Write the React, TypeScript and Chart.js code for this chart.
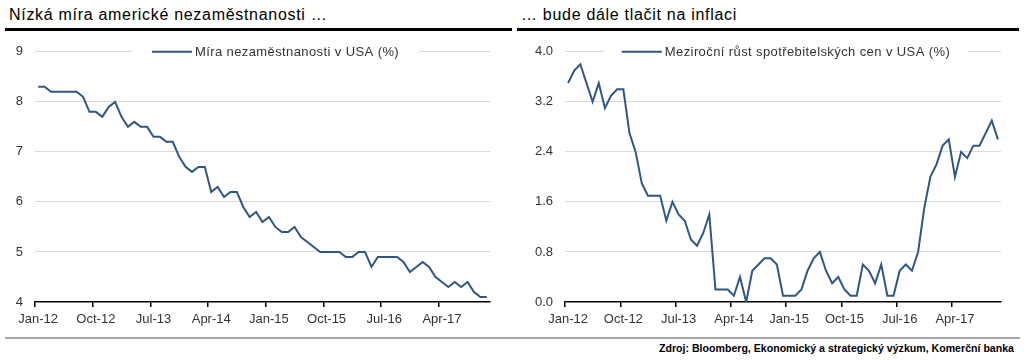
import React, { useEffect, useRef } from 'react';
import { Chart, registerables } from 'chart.js';

Chart.register(...registerables);

const MONTHS = ['Jan', 'Feb', 'Mar', 'Apr', 'May', 'Jun', 'Jul', 'Aug', 'Sep', 'Oct', 'Nov', 'Dec'];
const YEARS = ['12', '13', '14', '15', '16', '17'];
const categories: string[] = [];
YEARS.forEach((y) => MONTHS.forEach((m) => categories.push(`${m}-${y}`)));
categories.length = 71; // Jan-12 .. Nov-17

const unemployment = [
  8.3, 8.3, 8.2, 8.2, 8.2, 8.2, 8.2, 8.1, 7.8, 7.8, 7.7, 7.9,
  8.0, 7.7, 7.5, 7.6, 7.5, 7.5, 7.3, 7.3, 7.2, 7.2, 6.9, 6.7,
  6.6, 6.7, 6.7, 6.2, 6.3, 6.1, 6.2, 6.2, 5.9, 5.7, 5.8, 5.6,
  5.7, 5.5, 5.4, 5.4, 5.5, 5.3, 5.2, 5.1, 5.0, 5.0, 5.0, 5.0,
  4.9, 4.9, 5.0, 5.0, 4.7, 4.9, 4.9, 4.9, 4.9, 4.8, 4.6, 4.7,
  4.8, 4.7, 4.5, 4.4, 4.3, 4.4, 4.3, 4.4, 4.2, 4.1, 4.1,
];

const inflation = [
  3.5, 3.7, 3.8, 3.5, 3.2, 3.5, 3.1, 3.3, 3.4, 3.4, 2.7, 2.4,
  1.9, 1.7, 1.7, 1.7, 1.3, 1.6, 1.4, 1.3, 1.0, 0.9, 1.1, 1.4,
  0.2, 0.2, 0.2, 0.1, 0.4, 0.0, 0.5, 0.6, 0.7, 0.7, 0.6, 0.1,
  0.1, 0.1, 0.2, 0.5, 0.7, 0.8, 0.5, 0.3, 0.4, 0.2, 0.1, 0.1,
  0.6, 0.5, 0.3, 0.6, 0.1, 0.1, 0.5, 0.6, 0.5, 0.8, 1.5, 2.0,
  2.2, 2.5, 2.6, 2.0, 2.4, 2.3, 2.5, 2.5, 2.7, 2.9, 2.6,
];

const leftTitle = 'Nízká míra americké nezaměstnanosti …';
const rightTitle = '… bude dále tlačit na inflaci';
const leftLegend = 'Míra nezaměstnanosti v USA (%)';
const rightLegend = 'Meziroční růst spotřebitelských cen v USA (%)';
const sourceText = 'Zdroj: Bloomberg, Ekonomický a strategický výzkum, Komerční banka';

const FONT = '"Liberation Sans", Arial, Helvetica, sans-serif';
const LINE_COLOR = '#2f5687';
const TEXT_COLOR = '#333333';
const LABEL_EVERY = 9;

const boxLegend = {
  id: 'boxLegend',
  afterDraw(chart: any, _args: any, opts: any) {
    const { ctx, chartArea } = chart;
    const ds = chart.data.datasets[0];
    ctx.save();
    ctx.font = `13px ${FONT}`;
    if ('letterSpacing' in ctx) (ctx as any).letterSpacing = opts.letterSpacing || '0px';
    const tw = ctx.measureText(ds.label).width;
    const lineLen = 40;
    const gap = 3;
    const pad = opts.pad || 16;
    const total = lineLen + gap + tw;
    const x0 = chartArea.left + (chartArea.width - total) / 2 + (opts.shift || 0);
    const y = chartArea.top;
    ctx.fillStyle = '#ffffff';
    ctx.fillRect(x0 - pad, y - 3, total + 2 * pad, 6);
    ctx.strokeStyle = ds.borderColor;
    ctx.lineWidth = 2;
    ctx.beginPath();
    ctx.moveTo(x0, y);
    ctx.lineTo(x0 + lineLen, y);
    ctx.stroke();
    ctx.fillStyle = TEXT_COLOR;
    ctx.textBaseline = 'middle';
    ctx.textAlign = 'left';
    ctx.fillText(ds.label, x0 + lineLen + gap, y + 1);
    ctx.restore();
  },
};

type PanelProps = {
  data: number[];
  label: string;
  min: number;
  max: number;
  step: number;
  decimals: number;
  yWidth: number;
  padRight: number;
  width: number;
  height: number;
  shift: number;
  pad: number;
};

function LineChart(p: PanelProps) {
  const ref = useRef<HTMLCanvasElement | null>(null);
  useEffect(() => {
    if (!ref.current) return;
    const chart = new Chart(ref.current, {
      type: 'line',
      data: {
        labels: categories,
        datasets: [
          {
            label: p.label,
            data: p.data,
            borderColor: LINE_COLOR,
            borderWidth: 2,
            pointRadius: 0,
            tension: 0,
            fill: false,
          },
        ],
      },
      plugins: [boxLegend],
      options: {
        animation: false,
        responsive: false,
        devicePixelRatio: 1,
        layout: { padding: { top: 13, right: p.padRight, bottom: 0, left: 0 } },
        plugins: {
          legend: { display: false },
          tooltip: { enabled: false },
          boxLegend: { shift: p.shift, pad: p.pad, letterSpacing: '0.4px' },
        } as any,
        scales: {
          x: {
            type: 'category',
            offset: true,
            grid: {
              display: true,
              offset: true,
              drawOnChartArea: false,
              drawTicks: true,
              tickLength: 5,
              lineWidth: 1.5,
              color: (ctx: any) => (ctx.index % LABEL_EVERY === 0 ? '#000000' : 'rgba(0,0,0,0)'),
              tickColor: (ctx: any) => (ctx.index % LABEL_EVERY === 0 ? '#000000' : 'rgba(0,0,0,0)'),
            },
            border: { display: true, color: '#000000', width: 1.5 },
            ticks: {
              autoSkip: false,
              maxRotation: 0,
              minRotation: 0,
              padding: 5,
              color: TEXT_COLOR,
              font: { family: FONT, size: 13 },
              callback: (_v: any, i: number) => (i % LABEL_EVERY === 0 ? categories[i] : ''),
            },
            afterFit: (s: any) => {
              s.height = 30;
            },
          },
          y: {
            type: 'linear',
            min: p.min,
            max: p.max,
            grid: {
              color: (ctx: any) => (ctx.tick && ctx.tick.value === p.min ? 'rgba(0,0,0,0)' : '#d9d9d9'),
              lineWidth: 1,
              drawTicks: false,
            },
            border: { display: false },
            ticks: {
              stepSize: p.step,
              padding: 12,
              color: TEXT_COLOR,
              font: { family: FONT, size: 13 },
              callback: (v: any) => Number(v).toFixed(p.decimals),
            },
            afterFit: (s: any) => {
              s.width = p.yWidth;
            },
          },
        },
      } as any,
    });
    return () => chart.destroy();
  }, []);
  return <canvas ref={ref} width={p.width} height={p.height} style={{ display: 'block' }} />;
}

const titleStyle: React.CSSProperties = {
  position: 'absolute',
  top: 5,
  fontFamily: FONT,
  fontSize: 16,
  letterSpacing: '0.7px',
  color: '#000',
  whiteSpace: 'nowrap',
  lineHeight: '20px',
};

export default function App() {
  return (
    <div
      style={{
        position: 'absolute',
        left: 0,
        top: 0,
        width: 1024,
        height: 361,
        background: '#fff',
        overflow: 'hidden',
        fontFamily: FONT,
      }}
    >
      <div style={{ ...titleStyle, left: 9 }}>{leftTitle}</div>
      <div style={{ ...titleStyle, left: 521 }}>{rightTitle}</div>
      <div style={{ position: 'absolute', left: 5, top: 28, width: 507, height: 3, background: '#000' }} />
      <div style={{ position: 'absolute', left: 517, top: 28, width: 502, height: 3, background: '#000' }} />

      <div style={{ position: 'absolute', left: 0, top: 32 }}>
        <LineChart
          data={unemployment}
          label={leftLegend}
          min={4}
          max={9}
          step={1}
          decimals={0}
          yWidth={35}
          padRight={20}
          width={510}
          height={300}
          shift={13}
          pad={20}
        />
      </div>
      <div style={{ position: 'absolute', left: 517, top: 32 }}>
        <LineChart
          data={inflation}
          label={rightLegend}
          min={0}
          max={4}
          step={0.8}
          decimals={1}
          yWidth={48}
          padRight={16}
          width={500}
          height={300}
          shift={3}
          pad={18}
        />
      </div>

      <div style={{ position: 'absolute', left: 5, top: 337, width: 1015, height: 2, background: '#a6a6a6' }} />
      <div
        style={{
          position: 'absolute',
          right: 1024 - 1014,
          top: 342,
          fontFamily: FONT,
          fontSize: 10.6,
          fontWeight: 'bold',
          color: '#000',
          whiteSpace: 'nowrap',
          lineHeight: '13px',
        }}
      >
        {sourceText}
      </div>
    </div>
  );
}
